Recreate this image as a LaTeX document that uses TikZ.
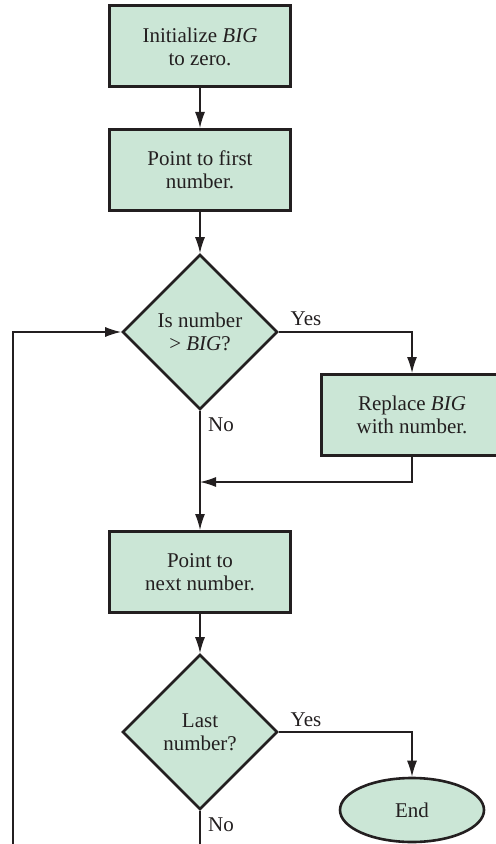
\documentclass[tikz,border=0pt]{standalone}
\usepackage{fontspec}
\setmainfont{Liberation Serif}
\usepackage{tikz}
\usetikzlibrary{shapes.geometric,arrows.meta,positioning,calc}
\definecolor{boxgreen}{RGB}{203, 230, 214}
\definecolor{linegray}{RGB}{35, 31, 32}

\begin{document}
\begin{tikzpicture}[
    x=0.5pt, y=-0.5pt,
    >={Latex[length=8pt, width=5pt]},
    txt/.style={font=\fontsize{10.5}{11.5}\selectfont, text=linegray, align=center},
    process/.style={txt, rectangle, draw=linegray, line width=1.5pt, fill=boxgreen, minimum width=90.5pt, minimum height=40.5pt, inner sep=0pt},
    decision/.style={txt, diamond, draw=linegray, line width=1.3pt, fill=boxgreen, minimum width=77.5pt, minimum height=77.5pt, inner sep=0pt},
    terminal/.style={txt, ellipse, draw=linegray, line width=1.3pt, fill=boxgreen, minimum width=72pt, minimum height=32pt, inner sep=0pt},
    answer/.style={txt, inner sep=0pt},
    flow/.style={draw=linegray, line width=0.65pt},
]
    \useasboundingbox (0, 0) rectangle (495, 844);

    % Main column
    \node[process] (init) at (200, 46.5) {Initialize \textit{BIG}\\to zero.};
    \node[process] (first) at (200, 170) {Point to first\\number.};
    \node[decision] (bigger) at (200, 332) {Is number\\> \textit{BIG}?};
    \node[process] (next) at (200, 572) {Point to\\next number.};
    \node[decision] (last) at (200, 732) {Last\\number?};

    % Right branch
    \node[process] (replace) at (412, 415) {Replace \textit{BIG}\\with number.};
    \node[terminal] (end) at (412, 810) {End};

    % Branch labels
    \node[answer] (yes1) at (306, 319) {Yes};
    \node[answer] (no1) at (221, 425) {No};
    \node[answer] (yes2) at (306, 720) {Yes};
    \node[answer] (no2) at (221, 825) {No};

    % Loose ends
    \coordinate (merge) at (200, 482);
    \coordinate (loopin) at (13, 844);
    \coordinate (loopout) at (200, 844);

    % Connectors
    \draw[flow, ->] (init) -- (first);
    \draw[flow, ->] (first) -- (bigger);
    \draw[flow, ->] (bigger.east) -| (replace.north);
    \draw[flow, ->] (bigger.south) -- (next.north);
    \draw[flow, ->] (replace.south) |- (merge);
    \draw[flow, ->] (next) -- (last);
    \draw[flow, ->] (last.east) -| (end.north);
    \draw[flow] (last.south) -- (loopout);
    \draw[flow, ->] (loopin) |- (bigger.west);
\end{tikzpicture}
\end{document}
